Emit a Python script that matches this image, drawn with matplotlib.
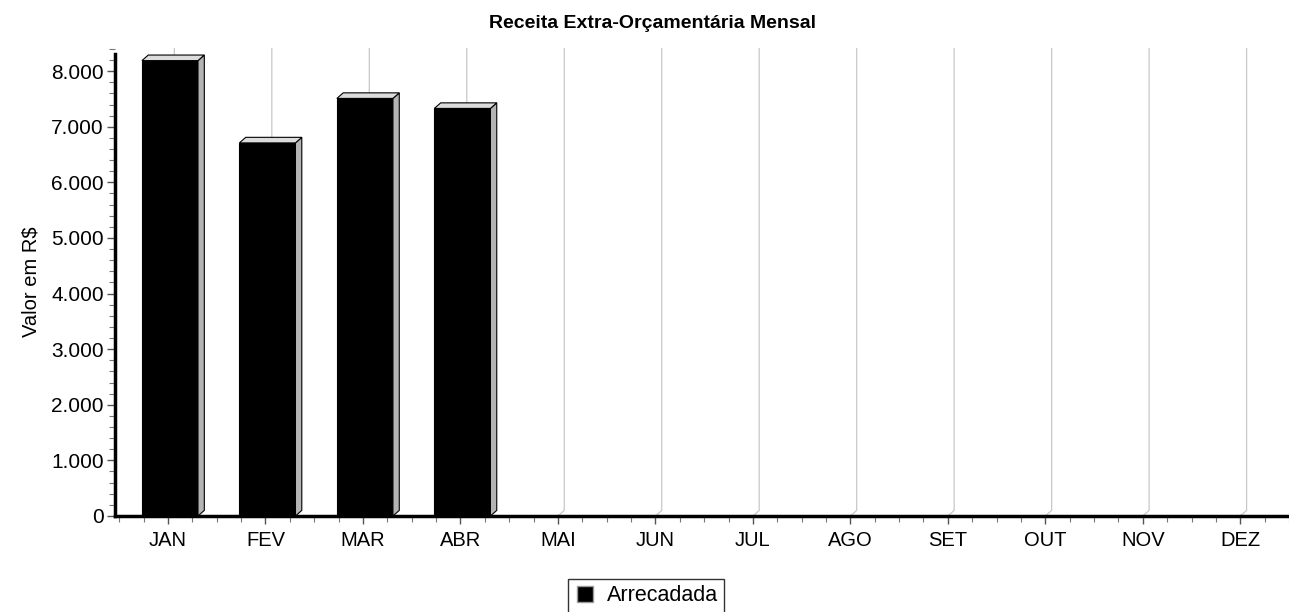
import matplotlib.pyplot as plt
from matplotlib.patches import Polygon
from matplotlib.lines import Line2D
from matplotlib.ticker import MultipleLocator, FuncFormatter

plt.rcParams['font.family'] = ['Liberation Sans', 'DejaVu Sans']

months = ['JAN', 'FEV', 'MAR', 'ABR', 'MAI', 'JUN', 'JUL', 'AGO', 'SET', 'OUT', 'NOV', 'DEZ']
arrecadada = [8190, 6710, 7510, 7330, 0, 0, 0, 0, 0, 0, 0, 0]

fig = plt.figure(figsize=(12.89, 6.12), dpi=100)
ax = fig.add_axes([0.0892, 0.1569, 0.9108, 0.7647])

x = list(range(len(months)))
w = 0.575
dx = 0.065   # depth of the fake 3D effect, x units
dy = 100     # depth, y units
ytop = 8417

ax.set_xlim(-0.544, 11.5)
ax.set_ylim(0, ytop)

# vertical grid lines, shifted back like a 3D wall
for xi in x:
    ax.plot([xi, xi + dx, xi + dx], [0, dy, ytop], color='#c8c8c8', lw=0.9, zorder=1)

for xi, v in zip(x, arrecadada):
    if v <= 0:
        continue
    x0 = xi - w / 2 + 0.02
    x1 = x0 + w
    front = Polygon([(x0, 0), (x1, 0), (x1, v), (x0, v)], closed=True,
                    facecolor='black', edgecolor='black', lw=0.8, zorder=3)
    side = Polygon([(x1, 0), (x1 + dx, dy), (x1 + dx, v + dy), (x1, v)], closed=True,
                   facecolor='#b4b4b4', edgecolor='black', lw=0.8, zorder=3)
    top = Polygon([(x0, v), (x1, v), (x1 + dx, v + dy), (x0 + dx, v + dy)], closed=True,
                  facecolor='#dcdcdc', edgecolor='black', lw=0.8, zorder=3)
    for p in (front, side, top):
        ax.add_patch(p)

ax.set_xticks(x)
ax.set_xticklabels(months)
ax.xaxis.set_minor_locator(MultipleLocator(0.25))
ax.yaxis.set_major_locator(MultipleLocator(1000))
ax.yaxis.set_minor_locator(MultipleLocator(200))
ax.yaxis.set_major_formatter(FuncFormatter(lambda v, p: f'{int(v):,}'.replace(',', '.')))

ax.tick_params(axis='both', which='major', labelsize=15, length=6, width=1, color='#555555')
ax.tick_params(axis='both', which='minor', length=4, width=0.8, color='#777777')
ax.tick_params(axis='x', labelsize=14.5, pad=5)
ax.tick_params(axis='y', pad=2)

for s in ('top', 'right'):
    ax.spines[s].set_visible(False)
ax.spines['left'].set_linewidth(2.5)
ax.spines['bottom'].set_linewidth(2.5)
ax.spines['left'].set_bounds(0, 8300)

ax.set_ylabel('Valor em R$', fontsize=14.5, labelpad=8)
fig.text(0.506, 0.962, 'Receita Extra-Orçamentária Mensal', fontsize=14, fontweight='bold',
         ha='center', va='center')

handle = Line2D([], [], marker='s', color='black', markersize=12, linestyle='none',
                markeredgecolor='#999999')
fig.legend([handle], ['Arrecadada'], loc='upper left', bbox_to_anchor=(0.4406, 0.054),
           fontsize=15.5, frameon=True, fancybox=False, edgecolor='black',
           handlelength=1.0, handletextpad=0.5, borderpad=0.3, borderaxespad=0)

plt.savefig('out.png', dpi=100)
